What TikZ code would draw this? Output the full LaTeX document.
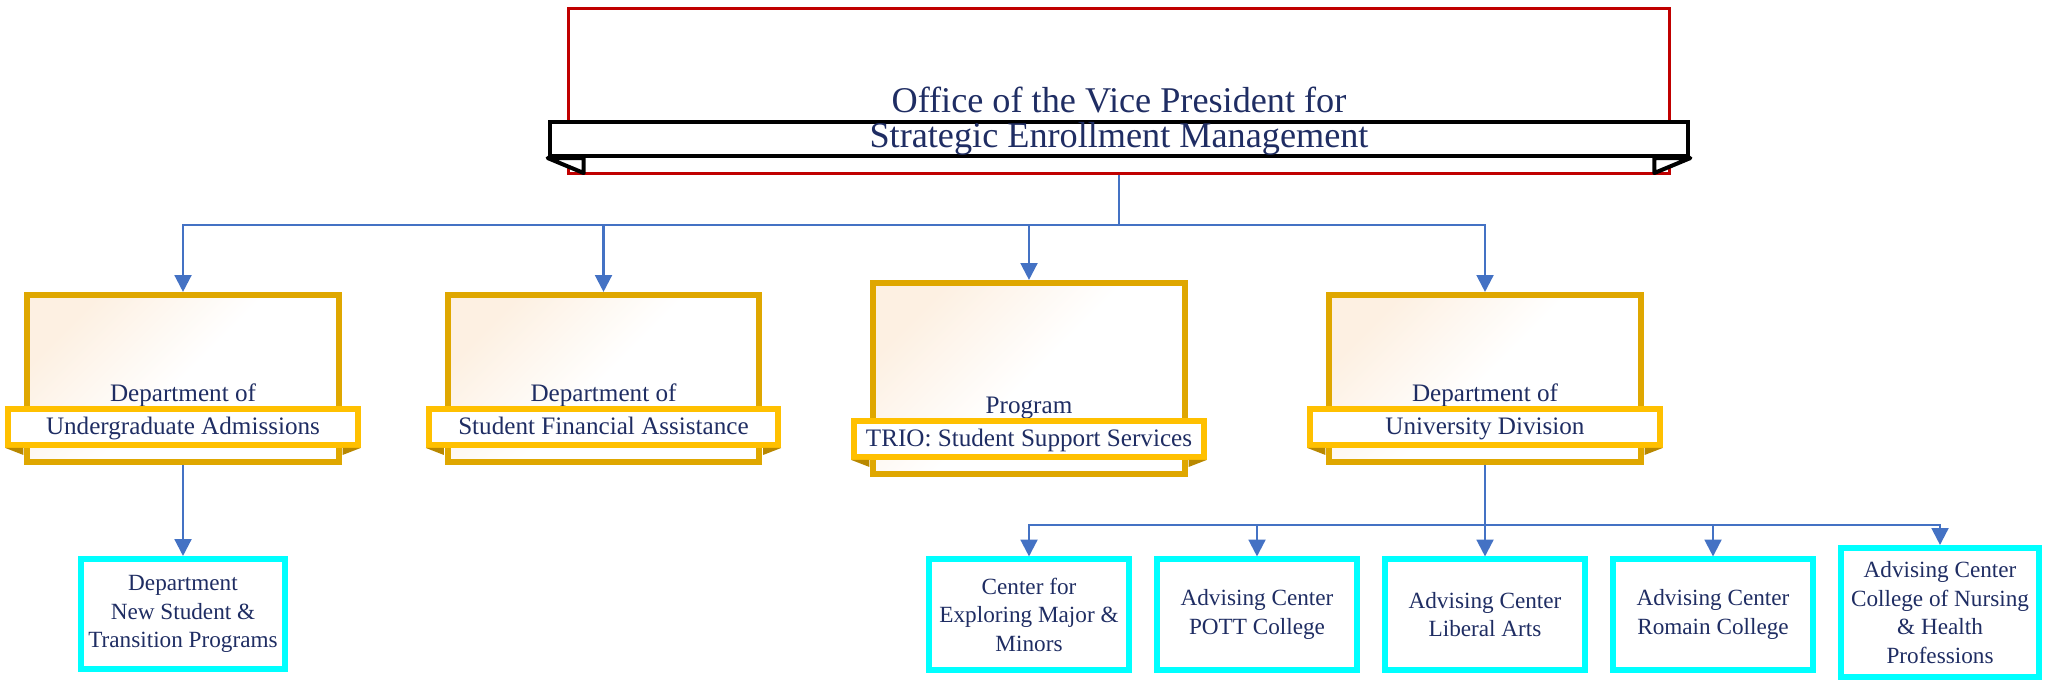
\documentclass[tikz,border=0pt]{standalone}
\usepackage{fontspec}
\setmainfont{Liberation Serif}
\usetikzlibrary{arrows.meta}

\definecolor{vpred}{RGB}{192,0,0}
\definecolor{golddark}{RGB}{223,167,0}
\definecolor{goldlight}{RGB}{255,192,0}
\definecolor{goldtab}{RGB}{184,136,0}
\definecolor{peach}{RGB}{253,240,226}
\definecolor{connblue}{RGB}{68,114,196}
\definecolor{navytext}{RGB}{31,45,99}
\definecolor{aqua}{RGB}{0,255,255}

\tikzset{
    vpbox/.style={draw=vpred, line width=0.85pt, minimum width=11cm, minimum height=1.65cm},
    vpban/.style={draw=black, fill=white, line width=1.15pt, minimum width=11.38cm, anchor=base,
        font=\fontsize{10.3}{12}\selectfont, text height=0.26cm, text depth=0.08cm},
    vplbl/.style={font=\fontsize{10.3}{12}\selectfont, anchor=base},
    deptbox/.style={draw=golddark, line width=1.7pt, minimum width=3.11cm, minimum height=1.67cm,
        top color=peach, bottom color=white, middle color=white, shading angle=45},
    deptban/.style={draw=goldlight, fill=white, line width=1.7pt, minimum width=3.49cm, anchor=base,
        font=\fontsize{7.15}{9}\selectfont, text height=0.26cm, text depth=0.10cm},
    deptlbl/.style={font=\fontsize{7.15}{9}\selectfont, anchor=base},
    unitbox/.style={draw=aqua, fill=white, line width=1.7pt, minimum width=2.0cm, minimum height=1.1cm,
        align=center, font=\fontsize{6.6}{8.1}\selectfont},
    conn/.style={draw=connblue, line width=0.65pt},
    arr/.style={conn, -{Triangle[width=4.8pt,length=4.8pt]}},
}

\begin{document}
\begin{tikzpicture}[x=0.01cm, y=-0.01cm, every node/.style={text=navytext, inner sep=0pt}]

\useasboundingbox (0,0) rectangle (2046,683);

% Vice President office
\node[vpbox] (vp) at (1119,91) {};
\node[vplbl] (vptop) at (1119,113) {Office of the Vice President for};
\node[vpban] (vpban) at (1119,148) {Strategic Enrollment Management};
\filldraw[fill=white, draw=black, line width=1.15pt, line join=round]
    (vpban.south west) -- ++(36,0) -- ++(0,15) -- cycle;
\filldraw[fill=white, draw=black, line width=1.15pt, line join=round]
    (vpban.south east) -- ++(-36,0) -- ++(0,15) -- cycle;

% Departments
\node[deptbox] (ua) at (183,378.5) {};
\node[deptbox] (sfa) at (603.5,378.5) {};
\node[deptbox, minimum height=1.91cm] (trio) at (1029,378.5) {};
\node[deptbox] (ud) at (1485,378.5) {};

\node[deptlbl] (uatop) at (183,402) {Department of};
\node[deptlbl] (sfatop) at (603.5,402) {Department of};
\node[deptlbl] (triotop) at (1029,414) {Program};
\node[deptlbl] (udtop) at (1485,402) {Department of};

\node[deptban] (uaban) at (183,435) {Undergraduate Admissions};
\node[deptban] (sfaban) at (603.5,435) {Student Financial Assistance};
\node[deptban] (trioban) at (1029,447) {TRIO: Student Support Services};
\node[deptban] (udban) at (1485,435) {University Division};

% Ribbon tabs
\foreach \b in {uaban,sfaban,trioban,udban} {
    \fill[goldtab] (\b.south west) -- ++(18,0) -- ++(0,7) -- cycle;
    \fill[goldtab] (\b.south east) -- ++(-18,0) -- ++(0,7) -- cycle;
}

% Units
\node[unitbox, minimum width=2.04cm] (nstp) at (183,614) {Department\\New Student \&\\Transition Programs};
\node[unitbox] (cem) at (1029,614.5) {Center for\\Exploring Major \&\\Minors};
\node[unitbox] (pott) at (1257,614.5) {Advising Center\\POTT College};
\node[unitbox] (la) at (1485,614.5) {Advising Center\\Liberal Arts};
\node[unitbox] (rc) at (1713,614.5) {Advising Center\\Romain College};
\node[unitbox, minimum width=1.98cm, minimum height=1.29cm] (nhp) at (1940,612.5)
    {Advising Center\\College of Nursing\\\& Health\\Professions};

% Coordinates
\coordinate (bustop) at (1119,225);
\coordinate (busud) at (1485,525);

% Draws lines
\draw[conn] (vp.south) -- (bustop);
\foreach \n in {ua,sfa,trio,ud}
    \draw[arr] (bustop) -| (\n.north);
\draw[arr] (ua.south) -- (nstp.north);
\draw[conn] (ud.south) -- (busud);
\foreach \n in {cem,pott,la,rc,nhp}
    \draw[arr] (busud) -| (\n.north);

\end{tikzpicture}
\end{document}
